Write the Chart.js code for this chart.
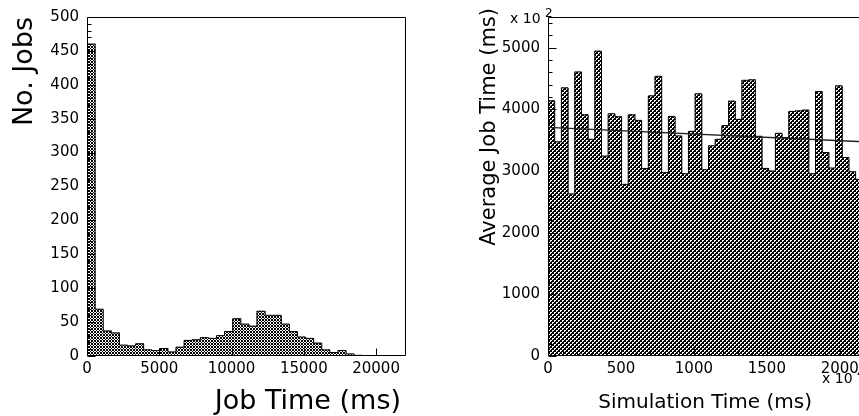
<!DOCTYPE html>
<html><head><meta charset="utf-8">
<script src="https://cdn.jsdelivr.net/npm/chart.js@4"></script>
<style>
html,body{margin:0;padding:0;background:#fff;overflow:hidden;width:859px;height:416px;position:relative;}
#c1{position:absolute;left:0;top:0;}
#c2{position:absolute;left:430px;top:0;}
</style></head><body>
<canvas id="c1" width="430" height="416"></canvas>
<canvas id="c2" width="460" height="416"></canvas>
<script>
// ---------- data ----------
const jobTimeBinWidth = 560;           // ms per bin (left histogram)
const jobCounts = [460, 69, 37, 34, 16, 15, 18, 9, 8, 11, 6, 13, 23, 24, 27, 26, 30, 36,
                   55, 47, 44, 66, 60, 60, 47, 36, 28, 26, 19, 9, 5, 8, 3, 1, 0, 0];
const jobTimeRange = [0, 22000];
const jobTimeTicks = [0, 5000, 10000, 15000, 20000];
const jobCountTicks = [0, 50, 100, 150, 200, 250, 300, 350, 400, 450, 500];

const simBinWidth = 2200 / 48;          // x10^4 ms per bin (right histogram)
const avgJobTime = [4140, 3473, 4349, 2629, 4608, 3914, 3516, 4946, 3242, 3930, 3882, 2785,
                    3914, 3823, 3043, 4220, 4538, 2978, 3887, 3570, 2957, 3645, 4253, 3022,
                    3409, 3516, 3737, 4134, 3839, 4473, 4480, 3565, 3043, 3000, 3613, 3543,
                    3968, 3978, 3989, 2957, 4290, 3301, 3048, 4382, 3220, 2989, 2866, 2950];
const simRange = [0, 2200];
const simTicks = [0, 500, 1000, 1500, 2000];
const avgTicks = [0, 1000, 2000, 3000, 4000, 5000];
const fitX = [0, 2200];
const fitY = [3710, 3472];

// ---------- helpers ----------
const FONT = "'DejaVu Sans', 'Liberation Sans', sans-serif";
function makePattern(canvas, n, blackFn) {
  const t = document.createElement('canvas'); t.width = n; t.height = n;
  const g = t.getContext('2d'); const img = g.createImageData(n, n);
  for (let y = 0; y < n; y++) for (let x = 0; x < n; x++) {
    const k = (y * n + x) * 4; const c = blackFn(x, y) ? 0 : 255;
    img.data[k] = img.data[k + 1] = img.data[k + 2] = c; img.data[k + 3] = 255;
  }
  g.putImageData(img, 0, 0);
  return canvas.getContext('2d').createPattern(t, 'repeat');
}
function histBars(vals, w) { return vals.map((v, i) => ({ x: (i + 0.5) * w, y: v })); }
function histOutline(vals, w) {
  const pts = [{ x: 0, y: 0 }];
  vals.forEach((v, i) => pts.push({ x: i * w, y: v }));
  pts.push({ x: vals.length * w, y: 0 });
  return pts;
}
function framePlugin(cfg) {
  return {
    id: 'frame',
    afterDatasetsDraw(chart) {
      const { ctx, chartArea: a, scales: { x, y } } = chart;
      const L = Math.round(a.left) + 0.5, R = Math.round(a.right) + 0.5,
            T = Math.round(a.top) + 0.5, B = Math.round(a.bottom) - 0.5;
      ctx.save();
      ctx.strokeStyle = '#000'; ctx.lineWidth = 1;
      ctx.beginPath();
      ctx.moveTo(L, T); ctx.lineTo(R, T); ctx.lineTo(R, B); ctx.lineTo(L, B); ctx.closePath();
      for (let v = y.min; v <= y.max + 1e-6; v += cfg.yMinor) {
        const py = Math.round(y.getPixelForValue(v)) + 0.5;
        const major = Math.abs(v / cfg.yMajor - Math.round(v / cfg.yMajor)) < 1e-6;
        ctx.moveTo(L, py); ctx.lineTo(L + (major ? 8 : 4), py);
      }
      for (let v = x.min; v <= x.max + 1e-6; v += cfg.xMinor) {
        const px = Math.round(x.getPixelForValue(v)) + 0.5;
        const major = Math.abs(v / cfg.xMajor - Math.round(v / cfg.xMajor)) < 1e-6;
        ctx.moveTo(px, B); ctx.lineTo(px, B - (major ? 7 : 3.5));
      }
      ctx.stroke();
      ctx.fillStyle = '#000';
      cfg.texts.forEach(t => {
        ctx.save();
        ctx.font = t.size + 'px ' + FONT;
        ctx.textAlign = t.align || 'left';
        ctx.textBaseline = 'alphabetic';
        ctx.translate(t.x, t.y);
        if (t.rot) ctx.rotate(-Math.PI / 2);
        ctx.fillText(t.text, 0, 0);
        ctx.restore();
      });
      ctx.restore();
    }
  };
}
function makeChart(canvas, o) {
  return new Chart(canvas, {
    type: 'bar',
    data: {
      datasets: [
        { type: 'bar', data: histBars(o.vals, o.binW), backgroundColor: o.pattern, borderWidth: 0,
          barPercentage: 1, categoryPercentage: 1, grouped: false, order: 3 },
        { type: 'line', data: histOutline(o.vals, o.binW), stepped: true, borderColor: '#000',
          borderWidth: 1, pointRadius: 0, fill: false, order: 2 },
        ...(o.extra || [])
      ]
    },
    options: {
      responsive: false, animation: false, devicePixelRatio: 1,
      layout: { padding: o.padding },
      plugins: { legend: { display: false }, tooltip: { enabled: false } },
      scales: {
        x: {
          type: 'linear', min: o.xRange[0], max: o.xRange[1], offset: false,
          grid: { display: false, drawTicks: false, offset: false }, border: { display: false },
          afterFit: s => { s.height = 60; },
          afterBuildTicks: s => { s.ticks = o.xTicks.map(v => ({ value: v })); },
          ticks: { autoSkip: false, maxRotation: 0, padding: 4, color: '#000',
                   font: { family: FONT, size: 15 }, callback: v => String(v) }
        },
        y: {
          type: 'linear', min: o.yRange[0], max: o.yRange[1],
          grid: { display: false, drawTicks: false }, border: { display: false },
          afterFit: s => { s.width = o.yWidth; },
          afterBuildTicks: s => { s.ticks = o.yTicks.map(v => ({ value: v })); },
          ticks: { autoSkip: false, padding: 8, color: '#000',
                   font: { family: FONT, size: 15 }, callback: v => String(v) }
        }
      }
    },
    plugins: [framePlugin(o.frame)]
  });
}

// ---------- left chart ----------
const c1 = document.getElementById('c1');
makeChart(c1, {
  vals: jobCounts, binW: jobTimeBinWidth,
  pattern: makePattern(c1, 3, (x, y) => ((x + y) % 3 === 0) || ((x - y + 6) % 3 === 0)),
  padding: { left: 0, top: 16, right: 25, bottom: 0 },
  xRange: jobTimeRange, yRange: [0, 500], xTicks: jobTimeTicks, yTicks: jobCountTicks, yWidth: 87,
  frame: { yMinor: 10, yMajor: 50, xMinor: 5000, xMajor: 5000,
    texts: [
      { text: 'Job Time (ms)', x: 401, y: 409, size: 27, align: 'right' },
      { text: 'No. Jobs', x: 32, y: 17, size: 27, align: 'right', rot: true }
    ] }
});

// ---------- right chart ----------
const c2 = document.getElementById('c2');
makeChart(c2, {
  vals: avgJobTime, binW: simBinWidth,
  pattern: makePattern(c2, 4, (x, y) => !((x === 0 && y === 0) || (x === 1 && y === 0) || (x === 0 && y === 1) ||
                                      (x === 2 && y === 2) || (x === 3 && y === 2) || (x === 2 && y === 3))),
  padding: { left: 0, top: 16, right: 21, bottom: 0 },
  xRange: simRange, yRange: [0, 5500], xTicks: simTicks, yTicks: avgTicks, yWidth: 118,
  extra: [{ type: 'line', data: fitX.map((x, i) => ({ x: x, y: fitY[i] })), borderColor: '#222',
            borderWidth: 1.3, pointRadius: 0, fill: false, order: 1 }],
  frame: { yMinor: 200, yMajor: 1000, xMinor: 100, xMajor: 500,
    texts: [
      { text: 'Simulation Time (ms)', x: 382, y: 408, size: 20, align: 'right' },
      { text: 'Average Job Time (ms)', x: 65, y: 8, size: 21, align: 'right', rot: true },
      { text: 'x 10', x: 80, y: 23, size: 14 },
      { text: '2', x: 115, y: 17, size: 12 },
      { text: 'x 10', x: 392, y: 383, size: 14 },
      { text: '4', x: 427, y: 377, size: 12 }
    ] }
});
</script>
</body></html>
